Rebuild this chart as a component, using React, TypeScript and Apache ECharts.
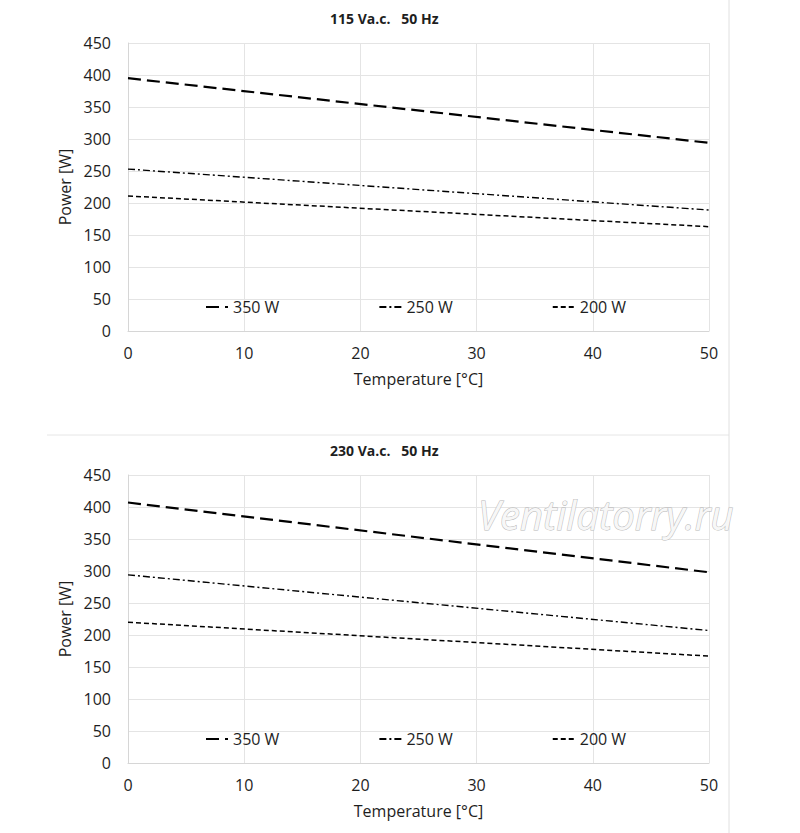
import React, { useEffect, useRef } from "react";
import * as echarts from "echarts";

const temperatures = [0, 50];
const seriesNames = ["350 W", "250 W", "200 W"];
const top350 = [395, 294];
const top250 = [253, 189];
const top200 = [211, 163];
const bot350 = [407, 298];
const bot250 = [294, 207];
const bot200 = [220, 167];
const yTicks = { min: 0, max: 450, interval: 50 };
const xTicks = { min: 0, max: 50, interval: 10 };
const titles = ["115 Va.c.   50 Hz", "230 Va.c.   50 Hz"];

const FONT = "Open Sans";
const TEXT = "#1e1e1e";
const GRID = "#e4e4e4";

const lineStyles = [
  { color: "#000", width: 2.2, type: [13, 6] },
  { color: "#000", width: 1.4, type: [7, 3, 2, 3] },
  { color: "#000", width: 1.5, type: [5, 3] },
];

function pts(vals: number[]) {
  return temperatures.map((t, i) => [t, vals[i]]);
}

export default function App() {
  const ref = useRef<HTMLDivElement>(null);
  useEffect(() => {
    if (!ref.current) return;
    const chart = echarts.init(ref.current, null, { renderer: "svg" });
    const gridTops = [43, 475];
    const xAxis = gridTops.map((_, i) => ({
      type: "value",
      gridIndex: i,
      ...xTicks,
      name: "Temperature [°C]",
      nameLocation: "middle",
      nameGap: 40,
      nameTextStyle: { fontFamily: FONT, fontSize: 16, color: TEXT },
      axisLine: { show: true, lineStyle: { color: "#d6d6d6", width: 1 } },
      axisTick: { show: false },
      axisLabel: { fontFamily: FONT, fontSize: 16, color: TEXT, margin: 14 },
      splitLine: { show: true, lineStyle: { color: GRID, width: 1 } },
    }));
    const yAxis = gridTops.map((_, i) => ({
      type: "value",
      gridIndex: i,
      ...yTicks,
      name: "Power [W]",
      nameLocation: "middle",
      nameGap: 45,
      nameTextStyle: { fontFamily: FONT, fontSize: 16, color: TEXT },
      axisLine: { show: true, lineStyle: { color: "#d6d6d6", width: 1 } },
      axisTick: { show: false },
      axisLabel: { fontFamily: FONT, fontSize: 16, color: TEXT, margin: 17 },
      splitLine: { show: true, lineStyle: { color: GRID, width: 1 } },
    }));
    const data = [
      [top350, top250, top200],
      [bot350, bot250, bot200],
    ];
    const series: any[] = [];
    data.forEach((group, gi) => {
      group.forEach((vals, si) => {
        series.push({
          type: "line",
          name: seriesNames[si],
          xAxisIndex: gi,
          yAxisIndex: gi,
          data: pts(vals),
          symbol: "none",
          showSymbol: false,
          lineStyle: lineStyles[si],
          itemStyle: { color: "#000" },
        });
      });
    });
    chart.setOption({
      animation: false,
      backgroundColor: "#fff",
      title: titles.map((t, i) => ({
        text: t,
        left: 325,
        top: gridTops[i] - 37,
        textStyle: { fontFamily: FONT, fontSize: 14, fontWeight: "bold", color: TEXT },
      })),
      grid: gridTops.map((t) => ({ left: 128, right: 91, top: t, height: 288 })),
      xAxis,
      yAxis,
      legend: gridTops.map((t) => ({
        data: seriesNames,
        left: 200,
        top: t + 251,
        itemWidth: 22,
        itemHeight: 14,
        itemGap: 99,
        selectedMode: false,
        itemStyle: { opacity: 0 },
        textStyle: { fontFamily: FONT, fontSize: 16, color: TEXT },
      })),
      graphic: [
        { type: "line", shape: { x1: 47, y1: 435, x2: 729, y2: 435 }, style: { stroke: "#e6e6e6", lineWidth: 1 } },
        { type: "line", shape: { x1: 729, y1: 0, x2: 729, y2: 833 }, style: { stroke: "#e0e0e0", lineWidth: 1 } },
        {
          type: "text",
          x: 478,
          y: 494,
          style: {
            text: "Ventilatorry.ru",
            font: "italic 40px 'Open Sans'",
            fill: "#f7f7f7",
            stroke: "#b8b8b8",
            lineWidth: 1,
          },
          z: 100,
        },
      ],
      series,
    });
    return () => chart.dispose();
  }, []);
  return (
    <div
      ref={ref}
      style={{ position: "fixed", left: 0, top: 0, width: 800, height: 833 }}
    />
  );
}
